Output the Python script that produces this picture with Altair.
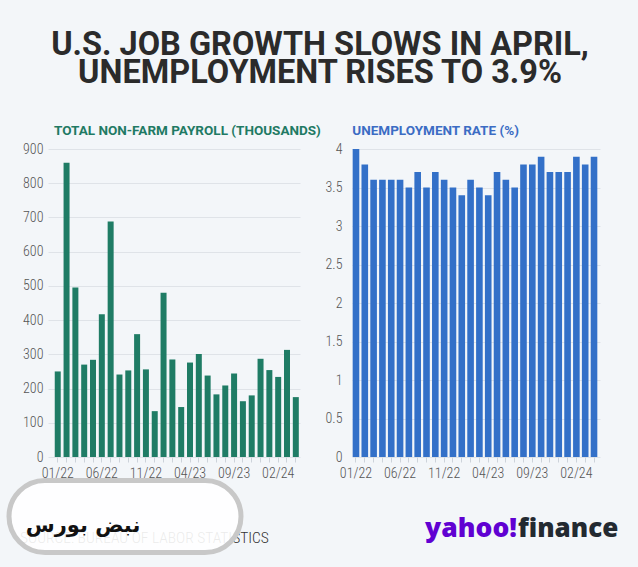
import altair as alt
import pandas as pd

# ---- data ----
months = ["01/22", "02/22", "03/22", "04/22", "05/22", "06/22", "07/22", "08/22",
          "09/22", "10/22", "11/22", "12/22", "01/23", "02/23", "03/23", "04/23",
          "05/23", "06/23", "07/23", "08/23", "09/23", "10/23", "11/23", "12/23",
          "01/24", "02/24", "03/24", "04/24"]
payroll = [250, 860, 495, 270, 284, 417, 688, 241, 253, 359, 256, 134, 480, 285,
           146, 276, 301, 238, 183, 209, 244, 163, 180, 287, 254, 234, 313, 175]
unemployment = [4.0, 3.8, 3.6, 3.6, 3.6, 3.6, 3.5, 3.7, 3.5, 3.7, 3.6, 3.5, 3.4, 3.6,
                3.5, 3.4, 3.7, 3.6, 3.5, 3.8, 3.8, 3.9, 3.7, 3.7, 3.7, 3.9, 3.8, 3.9]
x_tick_labels = ["01/22", "06/22", "11/22", "04/23", "09/23", "02/24"]
payroll_ticks = [0, 100, 200, 300, 400, 500, 600, 700, 800, 900]
rate_ticks = [0, 0.5, 1, 1.5, 2, 2.5, 3, 3.5, 4]

title_lines = ["U.S. JOB GROWTH SLOWS IN APRIL,", "UNEMPLOYMENT RISES TO 3.9%"]
left_title = "TOTAL NON-FARM PAYROLL (THOUSANDS)"
right_title = "UNEMPLOYMENT RATE (%)"
source_text = "SOURCE: BUREAU OF LABOR STATISTICS"
watermark_text = "نبض بورس"

df = pd.DataFrame({"month": months, "payroll": payroll, "rate": unemployment})
one = pd.DataFrame({"k": [0]})

BG = "#f3f6f9"
GREEN = "#1f7c65"
BLUE = "#3370c8"
AXIS_FONT = "Roboto Condensed, Roboto"
TITLE_FONT = "Roboto"

label_expr = "indexof(" + str(x_tick_labels).replace("'", "\"") + ", datum.label) >= 0 ? datum.label : ''"

x_axis = alt.Axis(title=None, grid=False, ticks=True, tickSize=5, labelPadding=4,
                  labelAngle=0, labelExpr=label_expr)

# ---- left panel ----
left_bars = alt.Chart(df).mark_bar(color=GREEN).encode(
    x=alt.X("month:N", sort=months,
            scale=alt.Scale(paddingInner=0.32, paddingOuter=0.45, align=0.85),
            axis=x_axis),
    y=alt.Y("payroll:Q", scale=alt.Scale(domain=[0, 900], nice=False),
            axis=alt.Axis(title=None, values=payroll_ticks, ticks=False, tickSize=0,
                          labelPadding=5, grid=True)),
)

frame = alt.Chart(one).mark_rect(opacity=0).encode(
    x=alt.value(-48), x2=alt.value(590), y=alt.value(-149), y2=alt.value(418))

main_title = alt.Chart(one).mark_text(
    text=title_lines, font=TITLE_FONT, fontWeight="bold", fontSize=32.5,
    lineHeight=28.4, align="center", baseline="alphabetic", color="#2b2b2b"
).encode(x=alt.value(272), y=alt.value(-94))

left_sub = alt.Chart(one).mark_text(
    text=left_title, font=TITLE_FONT, fontWeight="bold", fontSize=13.5,
    align="left", baseline="alphabetic", color="#1f7a64"
).encode(x=alt.value(6), y=alt.value(-14))

source = alt.Chart(one).mark_text(
    text=source_text, font=AXIS_FONT, fontWeight=300, fontSize=15.5, align="left",
    baseline="alphabetic", color="#333333"
).encode(x=alt.value(-28), y=alt.value(394.3))

pill = alt.Chart(one).mark_rect(
    cornerRadius=36, fill="white", fillOpacity=0.9, stroke="#c8c8c8", strokeWidth=5
).encode(x=alt.value(-39), x2=alt.value(193), y=alt.value(331.5), y2=alt.value(403.5))

wm = alt.Chart(one).mark_text(
    text=watermark_text, font="DejaVu Sans", fontWeight="bold", fontSize=21,
    align="center", baseline="alphabetic", color="#111111"
).encode(x=alt.value(35), y=alt.value(383))

left = alt.layer(frame, left_bars, main_title, left_sub, source, pill, wm).properties(
    width=252, height=308)

# ---- right panel ----
right_bars = alt.Chart(df).mark_bar(color=BLUE).encode(
    x=alt.X("month:N", sort=months,
            scale=alt.Scale(paddingInner=0.25, paddingOuter=0.19, align=0.2),
            axis=x_axis),
    y=alt.Y("rate:Q", scale=alt.Scale(domain=[0, 4], nice=False),
            axis=alt.Axis(title=None, values=rate_ticks, format="~g", ticks=False,
                          tickSize=0, labelPadding=10, grid=True)),
)

right_sub = alt.Chart(one).mark_text(
    text=right_title, font=TITLE_FONT, fontWeight="bold", fontSize=13.5,
    align="left", baseline="alphabetic", color="#3b6cc4"
).encode(x=alt.value(0.3), y=alt.value(-14))

yahoo = alt.Chart(one).mark_text(
    text="yahoo!", font="Open Sans", fontWeight=800, fontSize=26.5, align="right",
    baseline="alphabetic", color="#6001d2"
).encode(x=alt.value(165), y=alt.value(388.3))

finance = alt.Chart(one).mark_text(
    text="finance", font="Open Sans", fontWeight=800, fontSize=26, align="left",
    baseline="alphabetic", color="#232a31"
).encode(x=alt.value(166), y=alt.value(388.3))

right = alt.layer(right_bars, right_sub, yahoo, finance).properties(width=248, height=308)

chart = alt.hconcat(left, right, spacing=52, bounds="flush").properties(
    padding=0, background=BG
).configure_view(strokeWidth=0).configure_axis(
    labelFont=AXIS_FONT, labelFontSize=14, labelFontWeight=300, labelColor="#555555",
    domain=False, gridColor="#dfe3e8", gridWidth=1, tickColor="#cdd3da"
)

chart.save("out.html", embed_options={"renderer": "svg", "actions": False})
